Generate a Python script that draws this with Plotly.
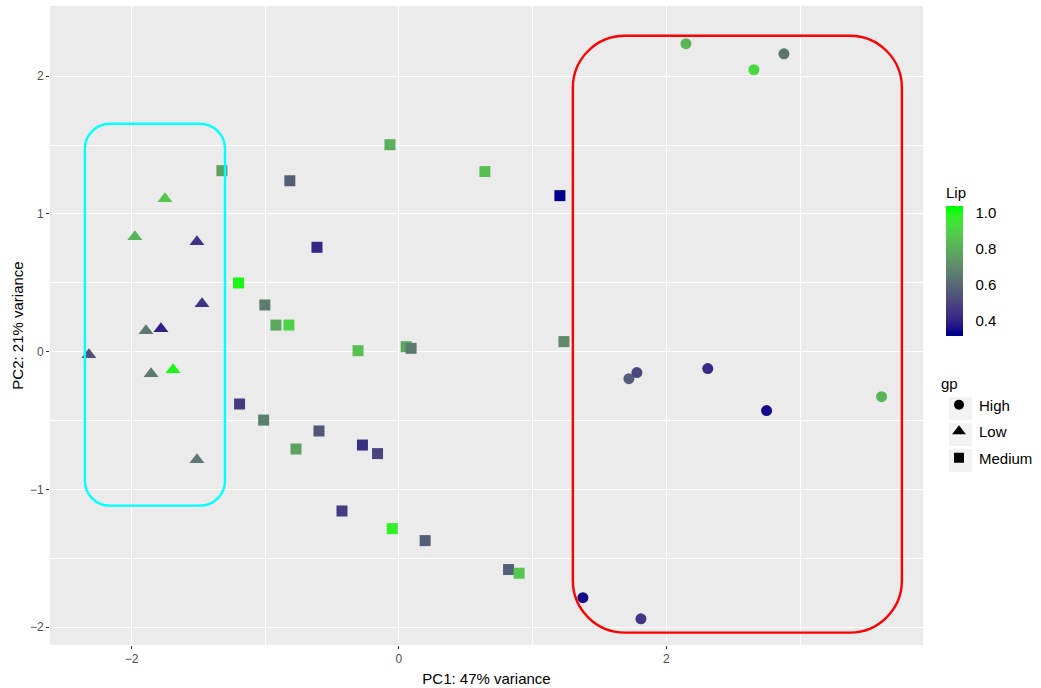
import plotly.graph_objects as go

# ---------------- data ----------------
high_pc1 = [2.147, 2.655, 2.880, 1.720, 1.780, 2.310, 2.750, 3.610, 1.376, 1.810]
high_pc2 = [2.236, 2.047, 2.163, -0.196, -0.152, -0.123, -0.428, -0.327, -1.786, -1.940]
high_lip = [0.82, 0.92, 0.64, 0.57, 0.50, 0.42, 0.355, 0.82, 0.355, 0.46]

low_pc1 = [-1.750, -1.975, -1.511, -1.473, -1.892, -1.780, -2.319, -1.854, -1.690, -1.511]
low_pc2 = [1.111, 0.835, 0.799, 0.348, 0.152, 0.167, -0.022, -0.160, -0.131, -0.784]
low_lip = [0.87, 0.82, 0.45, 0.45, 0.65, 0.40, 0.53, 0.65, 1.00, 0.65]

med_pc1 = [-1.324, -0.816, -0.067, 0.643, 1.204, -0.613, -1.200, -1.003, -0.920, -0.823,
           -0.306, 0.054, 0.091, 1.234, -1.192, -1.012, -0.598, -0.770, -0.273, -0.160,
           -0.426, -0.050, 0.196, 0.820, 0.899]
med_pc2 = [1.314, 1.241, 1.503, 1.308, 1.133, 0.758, 0.499, 0.339, 0.193, 0.193,
           0.007, 0.036, 0.024, 0.073, -0.380, -0.497, -0.576, -0.707, -0.678, -0.740,
           -1.157, -1.285, -1.372, -1.582, -1.609]
med_lip = [0.76, 0.57, 0.80, 0.85, 0.333, 0.41, 1.00, 0.66, 0.78, 0.90,
           0.85, 0.78, 0.66, 0.70, 0.47, 0.66, 0.55, 0.76, 0.43, 0.50,
           0.47, 0.98, 0.57, 0.57, 0.87]

group_names = ["High", "Low", "Medium"]
cbar_ticks = [0.4, 0.6, 0.8, 1.0]

# ---------------- styles ----------------
LIP_LO, LIP_HI = 0.333, 1.02          # gradient limits
LIP_MIN, LIP_MAX = 0.315, 1.038       # bar extent (half a bin beyond limits)
LOW_COL, HIGH_COL = "#00008B", "#00FF00"

# highlight boxes (x0, x1, y0, y1) in data units, corner radius in px
cyan_box = (-2.349, -1.301, -1.118, 1.655)
red_box = (1.301, 3.762, -2.040, 2.294)

X_RANGE = [-2.61, 3.92]
Y_RANGE = [-2.13, 2.51]
ML, MR, MT, MB = 50, 118, 6, 43
W, H = 1041, 688
PW, PH = W - ML - MR, H - MT - MB
PX_PER_X = PW / (X_RANGE[1] - X_RANGE[0])
PX_PER_Y = PH / (Y_RANGE[1] - Y_RANGE[0])


def px2paper_x(px):
    return (px - ML) / PW


def px2paper_y(py):
    return (H - MB - py) / PH


def _hex2rgb(h):
    h = h.lstrip("#")
    return [int(h[i:i + 2], 16) / 255 for i in (0, 2, 4)]


def _rgb2lab(c):
    def lin(u):
        return u / 12.92 if u <= 0.04045 else ((u + 0.055) / 1.055) ** 2.4
    r, g, b = [lin(u) for u in c]
    x = (0.4124 * r + 0.3576 * g + 0.1805 * b) / 0.95047
    y = (0.2126 * r + 0.7152 * g + 0.0722 * b)
    z = (0.0193 * r + 0.1192 * g + 0.9505 * b) / 1.08883

    def f(t):
        return t ** (1 / 3) if t > 0.008856 else 7.787 * t + 16 / 116
    fx, fy, fz = f(x), f(y), f(z)
    return [116 * fy - 16, 500 * (fx - fy), 200 * (fy - fz)]


def _lab2hex(lab):
    L, a, b = lab
    fy = (L + 16) / 116
    fx = fy + a / 500
    fz = fy - b / 200

    def finv(t):
        return t ** 3 if t ** 3 > 0.008856 else (t - 16 / 116) / 7.787
    x, y, z = finv(fx) * 0.95047, finv(fy), finv(fz) * 1.08883
    r = 3.2406 * x - 1.5372 * y - 0.4986 * z
    g = -0.9689 * x + 1.8758 * y + 0.0415 * z
    bb = 0.0557 * x - 0.2040 * y + 1.0570 * z

    def gam(u):
        u = u * 12.92 if u <= 0.0031308 else 1.055 * u ** (1 / 2.4) - 0.055
        return int(round(min(max(u, 0), 1) * 255))
    return "#%02x%02x%02x" % (gam(r), gam(g), gam(bb))


lab_lo, lab_hi = _rgb2lab(_hex2rgb(LOW_COL)), _rgb2lab(_hex2rgb(HIGH_COL))
N = 20
colorscale = [[0.0, LOW_COL]]
for i in range(N + 1):
    t = i / N
    v = LIP_LO + t * (LIP_HI - LIP_LO)
    pos = (v - LIP_MIN) / (LIP_MAX - LIP_MIN)
    colorscale.append([pos, _lab2hex([lab_lo[k] + t * (lab_hi[k] - lab_lo[k]) for k in range(3)])])
colorscale.append([1.0, colorscale[-1][1]])


def rounded_path(box, r_px):
    x0, x1, y0, y1 = box
    rx, ry = r_px / PX_PER_X, r_px / PX_PER_Y
    k = 0.5523
    p = f"M {x0 + rx},{y1} L {x1 - rx},{y1} "
    p += f"C {x1 - rx + k * rx},{y1} {x1},{y1 - ry + k * ry} {x1},{y1 - ry} "
    p += f"L {x1},{y0 + ry} "
    p += f"C {x1},{y0 + ry - k * ry} {x1 - rx + k * rx},{y0} {x1 - rx},{y0} "
    p += f"L {x0 + rx},{y0} "
    p += f"C {x0 + rx - k * rx},{y0} {x0},{y0 + ry - k * ry} {x0},{y0 + ry} "
    p += f"L {x0},{y1 - ry} "
    p += f"C {x0},{y1 - ry + k * ry} {x0 + rx - k * rx},{y1} {x0 + rx},{y1} Z"
    return p


FONT = "Liberation Sans, Arial, sans-serif"

fig = go.Figure()

groups = [
    (high_pc1, high_pc2, high_lip, "circle", 11),
    (low_pc1, low_pc2, low_lip, "triangle-up", 13),
    (med_pc1, med_pc2, med_lip, "square", 11),
]
for name, (xs, ys, cs, sym, sz) in zip(group_names, groups):
    fig.add_trace(go.Scatter(
        x=xs, y=ys, mode="markers", name=name, showlegend=False,
        marker=dict(symbol=sym, size=sz, color=cs, coloraxis="coloraxis", line=dict(width=0)),
        hoverinfo="x+y+text", text=[f"Lip={c}" for c in cs],
    ))

# legend-only entries for the shape legend
for name, (_, _, _, sym, sz) in zip(group_names, groups):
    fig.add_trace(go.Scatter(
        x=[None], y=[None], mode="markers", name=name, showlegend=True,
        legendgroup=name,
        marker=dict(symbol=sym, size=sz - 1, color="black"),
    ))

fig.add_shape(type="path", path=rounded_path(cyan_box, 25), xref="x", yref="y",
              line=dict(color="#00FFFF", width=2.4))
fig.add_shape(type="path", path=rounded_path(red_box, 52), xref="x", yref="y",
              line=dict(color="#FF0000", width=2.4))

# light grey key backgrounds of the shape legend
for top in (397, 423, 449):
    fig.add_shape(type="rect", xref="paper", yref="paper",
                  x0=px2paper_x(949), x1=px2paper_x(972),
                  y0=px2paper_y(top + 23), y1=px2paper_y(top),
                  fillcolor="#F2F2F2", line=dict(width=0), layer="below")

fig.update_layout(
    width=W, height=H,
    margin=dict(l=ML, r=MR, t=MT, b=MB, autoexpand=False),
    paper_bgcolor="white", plot_bgcolor="#EBEBEB",
    font=dict(family=FONT, size=15, color="black"),
    coloraxis=dict(
        cmin=LIP_MIN, cmax=LIP_MAX, colorscale=colorscale,
        colorbar=dict(
            title=dict(text="Lip", side="top", font=dict(size=15, color="black")),
            x=px2paper_x(946), xanchor="left", xpad=0,
            y=px2paper_y(184), yanchor="top", ypad=0,
            len=152, lenmode="pixels", thickness=17, thicknessmode="pixels",
            outlinewidth=0, ticks="outside", ticklen=10, tickcolor="rgba(0,0,0,0)",
            tickvals=cbar_ticks, ticktext=[f"{v:.1f}" for v in cbar_ticks],
            tickfont=dict(size=15, color="black"),
        ),
    ),
    legend=dict(
        title=dict(text="gp", font=dict(size=15, color="black")),
        x=px2paper_x(939), xanchor="left", y=px2paper_y(369), yanchor="top",
        font=dict(size=15, color="black"), bgcolor="rgba(0,0,0,0)",
        tracegroupgap=4, itemwidth=30,
    ),
    xaxis=dict(
        range=X_RANGE, tickvals=[-2, 0, 2], ticks="outside", ticklen=3,
        tickcolor="#333333", tickwidth=1, showgrid=True, gridcolor="white", gridwidth=1.2,
        zeroline=False, showline=False, automargin=True,
        tickfont=dict(size=12, color="#4D4D4D"),
        title=dict(text="PC1: 47% variance", font=dict(size=15, color="black"), standoff=8),
        minor=dict(tickvals=[-1, 1, 3], showgrid=True, gridcolor="white", gridwidth=0.6, ticks=""),
    ),
    yaxis=dict(
        range=Y_RANGE, tickvals=[-2, -1, 0, 1, 2], ticks="outside", ticklen=3,
        tickcolor="#333333", tickwidth=1, showgrid=True, gridcolor="white", gridwidth=1.2,
        zeroline=False, showline=False, automargin=True,
        tickfont=dict(size=12, color="#4D4D4D"),
        title=dict(text="PC2: 21% variance", font=dict(size=15, color="black"), standoff=2),
        minor=dict(tickvals=[-1.5, -0.5, 0.5, 1.5], showgrid=True, gridcolor="white", gridwidth=0.6, ticks=""),
    ),
)

fig.write_html("out.html", config={"displayModeBar": False},
               post_script="document.body.style.margin='0';")
